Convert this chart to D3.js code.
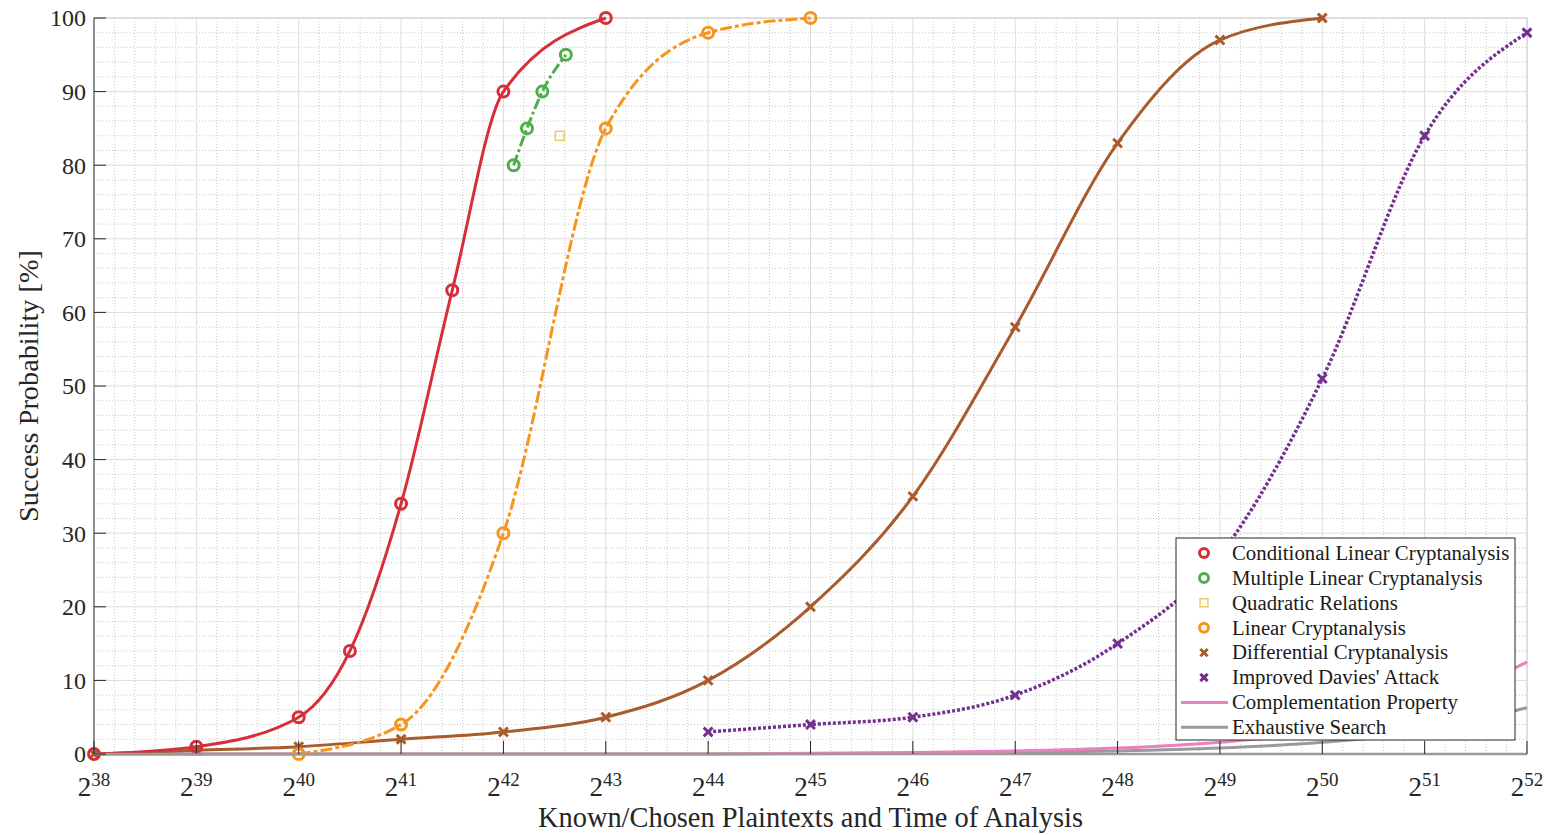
<!DOCTYPE html>
<html>
<head>
<meta charset="utf-8">
<script src="https://cdn.jsdelivr.net/npm/d3@7"></script>
<style>
  body { margin: 0; background: #fff; }
  svg { display: block; font-family: "Liberation Serif", "Times New Roman", serif; }
</style>
</head>
<body>
<div id="root"></div>
<script>
// exponents of 2 on the x axis, success probability in % on y
const conditionalX = [38, 39, 40, 40.5, 41, 41.5, 42, 43];
const conditionalY = [0, 1, 5, 14, 34, 63, 90, 100];

const multipleX = [42.1, 42.23, 42.38, 42.61];
const multipleY = [80, 85, 90, 95];

const quadraticX = [42.55];
const quadraticY = [84];

const linearX = [40, 41, 42, 43, 44, 45];
const linearY = [0, 4, 30, 85, 98, 100];

const differentialX = [38, 39, 40, 41, 42, 43, 44, 45, 46, 47, 48, 49, 50];
const differentialY = [0, 0.5, 1, 2, 3, 5, 10, 20, 35, 58, 83, 97, 100];

const daviesX = [44, 45, 46, 47, 48, 49, 50, 51, 52];
const daviesY = [3, 4, 5, 8, 15, 27, 51, 84, 98];

const complementX = [38, 40, 42, 44, 45, 46, 47, 48, 49, 50, 51, 52];
const complementY = [0, 0, 0, 0, 0.1, 0.2, 0.4, 0.8, 1.6, 3.1, 6.3, 12.5];

const exhaustiveX = [38, 40, 42, 44, 45, 46, 47, 48, 49, 50, 51, 52];
const exhaustiveY = [0, 0, 0, 0, 0.05, 0.1, 0.2, 0.4, 0.8, 1.6, 3.1, 6.3];

const xTicks = d3.range(38, 53);
const yTicks = d3.range(0, 101, 10);

const width = 1550;
const height = 835;
const margin = { top: 18, right: 23, bottom: 81, left: 94 };

const svg = d3.select("#root").append("svg")
  .attr("width", width)
  .attr("height", height);

const x = d3.scaleLinear()
  .domain([38, 52])
  .range([margin.left, width - margin.right]);

const y = d3.scaleLinear()
  .domain([0, 100])
  .range([height - margin.bottom, margin.top]);

const [x0, x1] = x.range();
const [y0, y1] = y.range();

// grid
const grid = svg.append("g");

grid.selectAll(".minor-x")
  .data(d3.range(38, 52.001, 0.2).filter(v => Math.abs(v - Math.round(v)) > 0.01))
  .join("line")
  .attr("x1", d => x(d)).attr("x2", d => x(d))
  .attr("y1", y0).attr("y2", y1)
  .attr("stroke", "#c8c8c8")
  .attr("stroke-dasharray", "1,2");

grid.selectAll(".minor-y")
  .data(d3.range(0, 100, 2).filter(v => v % 10 !== 0))
  .join("line")
  .attr("x1", x0).attr("x2", x1)
  .attr("y1", d => y(d)).attr("y2", d => y(d))
  .attr("stroke", "#c8c8c8")
  .attr("stroke-dasharray", "1,2");

grid.append("g").selectAll("line")
  .data(xTicks)
  .join("line")
  .attr("x1", d => x(d)).attr("x2", d => x(d))
  .attr("y1", y0).attr("y2", y1)
  .attr("stroke", "#dcdcdc");

grid.append("g").selectAll("line")
  .data(yTicks)
  .join("line")
  .attr("x1", x0).attr("x2", x1)
  .attr("y1", d => y(d)).attr("y2", d => y(d))
  .attr("stroke", "#dcdcdc");

// frame
svg.append("rect")
  .attr("x", x0).attr("y", y1)
  .attr("width", x1 - x0).attr("height", y0 - y1)
  .attr("fill", "none")
  .attr("stroke", "#d0d0d0");

const line = d3.line()
  .x(d => x(d[0]))
  .y(d => y(d[1]))
  .curve(d3.curveMonotoneX);

const zip = (xs, ys) => xs.map((v, i) => [v, ys[i]]);

const series = [
  { name: "Conditional Linear Cryptanalysis", xs: conditionalX, ys: conditionalY, color: "#d62f3a", dash: null, marker: "circle", line: true },
  { name: "Multiple Linear Cryptanalysis", xs: multipleX, ys: multipleY, color: "#4fae4c", dash: "11,3,3,3", marker: "circle", line: true },
  { name: "Quadratic Relations", xs: quadraticX, ys: quadraticY, color: "#f0c24a", dash: null, marker: "square", line: false },
  { name: "Linear Cryptanalysis", xs: linearX, ys: linearY, color: "#f7941d", dash: "12,3,4,3", marker: "circle", line: true },
  { name: "Differential Cryptanalysis", xs: differentialX, ys: differentialY, color: "#a95b2c", dash: null, marker: "cross", line: true },
  { name: "Improved Davies' Attack", xs: daviesX, ys: daviesY, color: "#73308f", dash: "3,2", marker: "cross", line: true },
  { name: "Complementation Property", xs: complementX, ys: complementY, color: "#ec7fbd", dash: null, marker: null, line: true },
  { name: "Exhaustive Search", xs: exhaustiveX, ys: exhaustiveY, color: "#9a9a9a", dash: null, marker: null, line: true },
];

const plot = svg.append("g");

// draw the bottom-most curves first
const drawOrder = [7, 6, 4, 5, 3, 1, 0, 2].map(i => series[i]);

function drawMarker(g, kind, color, cx, cy, size) {
  if (kind === "circle") {
    g.append("circle")
      .attr("cx", cx).attr("cy", cy).attr("r", size)
      .attr("fill", "none")
      .attr("stroke", color)
      .attr("stroke-width", 3);
  } else if (kind === "square") {
    g.append("rect")
      .attr("x", cx - size).attr("y", cy - size)
      .attr("width", size * 2).attr("height", size * 2)
      .attr("fill", "none")
      .attr("stroke", color)
      .attr("stroke-width", 1.3);
  } else if (kind === "cross") {
    const s = size * 0.8;
    g.append("path")
      .attr("d", `M${cx - s},${cy - s}L${cx + s},${cy + s}M${cx - s},${cy + s}L${cx + s},${cy - s}`)
      .attr("stroke", color)
      .attr("stroke-width", 3);
  }
}

drawOrder.forEach(s => {
  const pts = zip(s.xs, s.ys);
  if (s.line) {
    plot.append("path")
      .attr("d", line(pts))
      .attr("fill", "none")
      .attr("stroke", s.color)
      .attr("stroke-width", s.dash === "3,2" ? 3.5 : 3)
      .attr("stroke-dasharray", s.dash);
  }
  if (s.marker) {
    pts.forEach(p => drawMarker(plot, s.marker, s.color, x(p[0]), y(p[1]),
      s.marker === "square" ? 4.5 : 5.5));
  }
});

// axes lines and inward ticks
const axes = svg.append("g");
axes.append("line")
  .attr("x1", x0).attr("x2", x0).attr("y1", y0).attr("y2", y1)
  .attr("stroke", "#404040");
axes.append("line")
  .attr("x1", x0).attr("x2", x1).attr("y1", y0).attr("y2", y0)
  .attr("stroke", "#9a9a9a").attr("stroke-width", 2.5);

axes.selectAll(".xt")
  .data(xTicks)
  .join("line")
  .attr("x1", d => x(d)).attr("x2", d => x(d))
  .attr("y1", y0).attr("y2", y0 - 13)
  .attr("stroke", "#262626");

axes.selectAll(".yt")
  .data(yTicks)
  .join("line")
  .attr("x1", x0).attr("x2", x0 + 12)
  .attr("y1", d => y(d)).attr("y2", d => y(d))
  .attr("stroke", "#262626");

// tick labels
const xLabels = svg.append("g")
  .selectAll("text")
  .data(xTicks)
  .join("text")
  .attr("x", d => x(d))
  .attr("y", y0 + 42)
  .attr("text-anchor", "middle")
  .attr("fill", "#262626")
  .attr("font-size", 27);

xLabels.append("tspan").text("2");
xLabels.append("tspan")
  .attr("font-size", 19)
  .attr("dy", -10)
  .text(d => d);

svg.append("g")
  .selectAll("text")
  .data(yTicks)
  .join("text")
  .attr("x", x0 - 8)
  .attr("y", d => y(d))
  .attr("dy", "0.35em")
  .attr("text-anchor", "end")
  .attr("fill", "#262626")
  .attr("font-size", 24)
  .text(d => d);

// axis titles
svg.append("text")
  .attr("x", (x0 + x1) / 2)
  .attr("y", 827)
  .attr("text-anchor", "middle")
  .attr("fill", "#262626")
  .attr("font-size", 28.4)
  .text("Known/Chosen Plaintexts and Time of Analysis");

svg.append("text")
  .attr("transform", `translate(38, ${(y0 + y1) / 2}) rotate(-90)`)
  .attr("text-anchor", "middle")
  .attr("fill", "#262626")
  .attr("font-size", 28.3)
  .text("Success Probability [%]");

// legend
const legend = svg.append("g")
  .attr("transform", "translate(1176, 538)");

legend.append("rect")
  .attr("width", 339)
  .attr("height", 202)
  .attr("fill", "#fff")
  .attr("stroke", "#262626")
  .attr("stroke-width", 1);

const rowH = 24.9;

const items = legend.selectAll("g")
  .data(series)
  .join("g")
  .attr("transform", (d, i) => `translate(0, ${15 + i * rowH})`);

items.each(function(d) {
  const g = d3.select(this);
  if (d.marker) {
    drawMarker(g, d.marker, d.color, 28, 0, d.marker === "square" ? 4 : 4.5);
  } else {
    g.append("line")
      .attr("x1", 5).attr("x2", 52)
      .attr("stroke", d.color)
      .attr("stroke-width", 3);
  }
});

items.append("text")
  .attr("x", 56)
  .attr("dy", "0.33em")
  .attr("font-size", 20.8)
  .attr("fill", "#1a1a1a")
  .text(d => d.name);
</script>
</body>
</html>
